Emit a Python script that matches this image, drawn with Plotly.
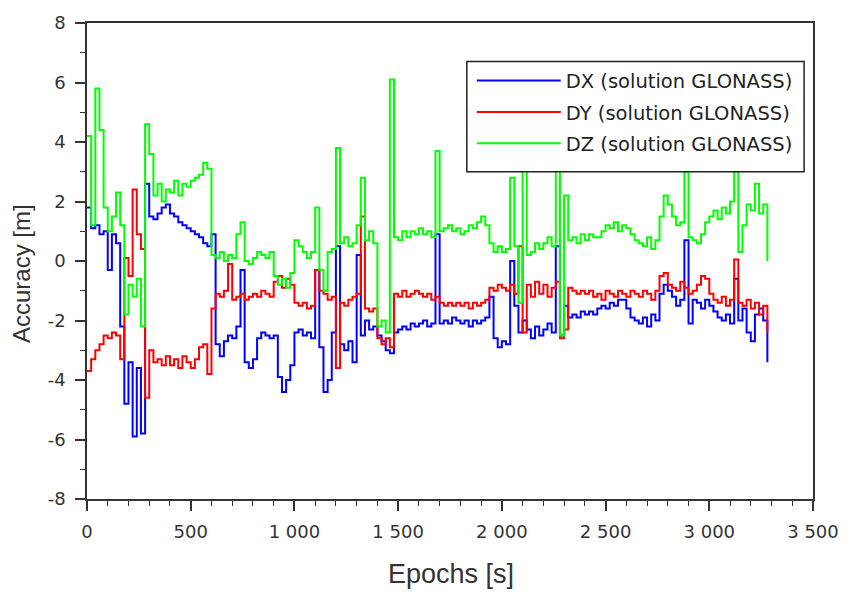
import plotly.graph_objects as go

# ---- data ----
epochs = list(range(0, 3281, 20))  # sample epochs [s]

dx = [
    1.8, 1.1, 1.2, 0.9, 1.0, -0.3, 0.9, 0.6, -2.2, -4.8,
    -3.4, -5.9, -3.6, -5.8, 2.6, 1.5, 1.4, 1.6, 1.8, 1.9,
    1.6, 1.5, 1.3, 1.2, 1.1, 1.0, 0.9, 0.8, 0.6, 0.5,
    0.9, -2.8, -3.2, -2.7, -2.5, -2.6, -2.2, -0.3, -3.4, -3.6,
    -3.3, -2.6, -2.4, -2.5, -2.6, -2.5, -3.9, -4.4, -4.0, -3.5,
    -2.4, -2.3, -2.5, -2.4, -2.6, -0.3, -2.9, -4.4, -4.0, -2.4,
    0.5, -2.8, -3.0, -2.7, -3.4, 0.2, -2.5, -2.0, -2.3, -2.2,
    -2.5, -2.7, -3.0, -3.1, -2.4, -2.3, -2.2, -2.3, -2.1, -2.2,
    -2.1, -2.0, -2.2, -2.1, 0.9, -2.1, -2.0, -2.1, -1.9, -2.0,
    -2.1, -2.0, -2.2, -2.0, -2.1, -2.0, -1.9, -1.2, -2.6, -2.9,
    -2.7, -2.8, 0.0, -1.5, -2.4, -2.0, -2.3, -2.6, -2.2, -2.5,
    -2.3, -2.1, -2.4, 0.5, -2.5, -1.5, -1.9, -1.8, -1.9, -1.7,
    -1.8, -1.7, -1.8, -1.6, -1.5, -1.6, -1.4, -1.5, -1.3, -1.3,
    -1.6, -1.9, -2.0, -2.1, -1.9, -2.2, -1.8, -2.0, -1.1, -0.8,
    -1.0, -1.2, -1.5, -1.3, 0.7, -2.1, -1.3, -1.4, -1.6, -1.3,
    -1.5, -1.7, -1.9, -2.0, -1.8, -2.1, -0.6, -2.0, -1.6, -2.4,
    -2.7, -1.8, -1.6, -2.0, -3.4,
]

dy = [
    -3.7, -3.3, -3.0, -2.8, -2.5, -2.6, -2.4, -2.5, -3.3, 0.1,
    -0.5, 2.4, 0.9, 0.4, -4.6, -3.0, -3.4, -3.3, -3.5, -3.2,
    -3.5, -3.3, -3.6, -3.2, -3.4, -3.6, -3.3, -2.9, -2.8, -3.8,
    -1.6, -1.1, -1.2, -1.0, -0.1, -1.3, -1.2, -1.1, -1.3, -1.2,
    -1.1, -1.2, -1.0, -1.1, -1.2, -0.7, -0.5, -0.9, -0.6, -0.8,
    -1.4, -1.5, -1.4, -1.6, -1.5, -0.3, -1.0, -1.1, -1.3, -1.2,
    -3.6, -1.4, -1.5, -1.3, -1.2, -1.1, 1.5, -1.6, -1.7, -1.6,
    -2.6, -2.8, -2.6, -2.9, -1.1, -1.2, -1.0, -1.2, -1.1, -1.0,
    -1.1, -1.2, -1.1, -1.3, -1.2, -1.4, -1.5, -1.4, -1.5, -1.4,
    -1.5, -1.4, -1.6, -1.4, -1.5, -1.4, -1.3, -0.9, -1.0, -0.8,
    -0.9, -1.0, -0.8, -1.1, 0.5, -2.4, -0.8, -1.2, -0.7, -1.1,
    -0.8, -1.2, -0.9, -0.7, -2.6, -2.3, -0.9, -1.0, -1.1, -1.0,
    -1.1, -1.0, -1.2, -1.1, -1.3, -1.0, -1.1, -1.2, -1.0, -1.1,
    -1.2, -1.0, -1.1, -1.2, -1.0, -1.1, -1.3, -1.0, -0.5, -0.4,
    -0.8, -0.9, -1.0, -0.7, -0.9, -1.1, -1.0, -0.8, -0.5, -0.6,
    -1.1, -1.3, -1.4, -1.2, -1.5, -1.3, 0.05, -1.4, -1.5, -1.3,
    -1.6, -1.4, -1.8, -1.5, -2.4,
]

dz = [
    4.2, 1.2, 5.8, 4.4, 1.8, 1.0, 1.5, 2.3, 1.2, -1.8,
    -0.8, -1.2, -0.6, -2.2, 4.6, 3.6, 2.2, 2.6, 2.0, 2.4,
    2.3, 2.7, 2.2, 2.6, 2.5, 2.7, 2.8, 2.9, 3.3, 3.1,
    0.2, 0.1, 0.3, 0.0, 0.2, 0.1, 0.9, 1.3, 0.0, -0.1,
    0.1, 0.3, 0.2, 0.1, 0.3, -0.5, -0.8, -0.6, -0.9, -0.4,
    0.7, 0.5, 0.3, 0.1, 0.3, 1.8, -0.3, -1.0, 0.3, 0.4,
    3.8, 0.6, 0.8, 0.5, 0.6, 1.2, 2.8, 0.7, 1.0, 0.6,
    -2.2, -2.0, -2.4, 6.1, 0.8, 0.7, 1.0, 0.8, 1.0, 0.9,
    1.1, 0.9, 1.0, 0.8, 3.7, 1.0, 1.1, 1.2, 1.0, 1.1,
    0.9, 1.0, 1.2, 1.1, 1.3, 1.5, 1.2, 0.6, 0.3, 0.5,
    0.3, 0.4, 2.8, 0.5, -1.4, 3.4, 0.2, 0.3, 0.6, 0.4,
    0.6, 0.8, 0.5, 3.2, -2.5, 2.2, 0.7, 0.8, 0.6, 0.9,
    0.7, 0.9, 0.8, 0.8, 1.0, 1.2, 1.1, 1.3, 1.0, 1.2,
    1.1, 0.9, 0.7, 0.6, 0.5, 0.8, 0.4, 0.7, 1.5, 2.2,
    1.9, 1.5, 1.2, 1.3, 3.0, 0.8, 0.7, 0.6, 0.9, 1.3,
    1.5, 1.7, 1.4, 1.8, 1.6, 2.0, 3.0, 0.3, 1.2, 1.9,
    1.7, 2.6, 1.6, 1.9, 0.0,
]

series_names = ["DX (solution GLONASS)", "DY (solution GLONASS)", "DZ (solution GLONASS)"]
series_colors = ["#0000ff", "#ff0000", "#00ff00"]

x_tick_vals = [0, 500, 1000, 1500, 2000, 2500, 3000, 3500]
x_tick_text = ["0", "500", "1 000", "1 500", "2 000", "2 500", "3 000", "3 500"]
y_tick_vals = [-8, -6, -4, -2, 0, 2, 4, 6, 8]
y_tick_text = ["-8", "-6", "-4", "-2", "0", "2", "4", "6", "8"]

# ---- figure ----
W, H = 851, 592
L, R, T, B = 87, 30, 16, 93
pw, ph = W - L - R, H - T - B


def px_x(p):
    return (p - L) / pw


def px_y(p):
    return (H - B - p) / ph


fig = go.Figure()
for i, (vals, name, col) in enumerate(zip([dx, dy, dz], series_names, series_colors)):
    fig.add_trace(go.Scatter(
        x=epochs, y=vals, mode="lines", name=name,
        line=dict(color=col, width=2, shape="hv"),
        legendgroup=f"g{i}",
    ))

axis_col = "#333333"
tick_font = dict(family="DejaVu Sans, sans-serif", size=18, color="#333333")
title_family = "Liberation Sans, Arial, sans-serif"

fig.update_layout(
    width=W, height=H,
    margin=dict(l=L, r=R, t=T, b=B, pad=0),
    paper_bgcolor="white", plot_bgcolor="white",
    showlegend=True,
    legend=dict(
        x=px_x(476), y=px_y(55), xanchor="left", yanchor="top",
        bgcolor="rgba(0,0,0,0)", borderwidth=0,
        font=dict(family="DejaVu Sans, sans-serif", size=19.5, color="#222222"),
        itemwidth=84, tracegroupgap=3, traceorder="grouped",
    ),
    shapes=[
        dict(type="rect", xref="paper", yref="paper",
             x0=px_x(471), x1=px_x(812), y0=px_y(167), y1=px_y(55),
             fillcolor="white", line=dict(color="#222222", width=1.5), layer="above"),
    ],
    xaxis=dict(
        range=[0, 3500], showgrid=False, zeroline=False,
        showline=True, linecolor=axis_col, linewidth=1.5, mirror=True,
        ticks="outside", ticklen=10, tickwidth=1.5, tickcolor=axis_col,
        tickvals=x_tick_vals, ticktext=x_tick_text, tickfont=tick_font,
        ticklabelstandoff=6,
        minor=dict(ticks="outside", ticklen=5, tickwidth=1.2, tickcolor=axis_col, dtick=100, tick0=0),
    ),
    yaxis=dict(
        range=[-8, 8], showgrid=False, zeroline=False,
        showline=True, linecolor=axis_col, linewidth=1.5, mirror=True,
        ticks="outside", ticklen=10, tickwidth=1.5, tickcolor=axis_col,
        tickvals=y_tick_vals, ticktext=y_tick_text, tickfont=tick_font,
        ticklabelstandoff=6,
        minor=dict(ticks="outside", ticklen=5, tickwidth=1.2, tickcolor=axis_col, dtick=1, tick0=0),
    ),
    annotations=[
        dict(text="Epochs [s]", xref="paper", yref="paper",
             x=px_x(455), y=px_y(575), xanchor="center", yanchor="middle",
             showarrow=False, font=dict(family=title_family, size=27, color="#333333")),
        dict(text="Accuracy [m]", xref="paper", yref="paper", textangle=-90,
             x=px_x(21), y=px_y(270), xanchor="center", yanchor="middle",
             showarrow=False, font=dict(family=title_family, size=24, color="#333333")),
    ],
)

fig.write_html("out.html")
